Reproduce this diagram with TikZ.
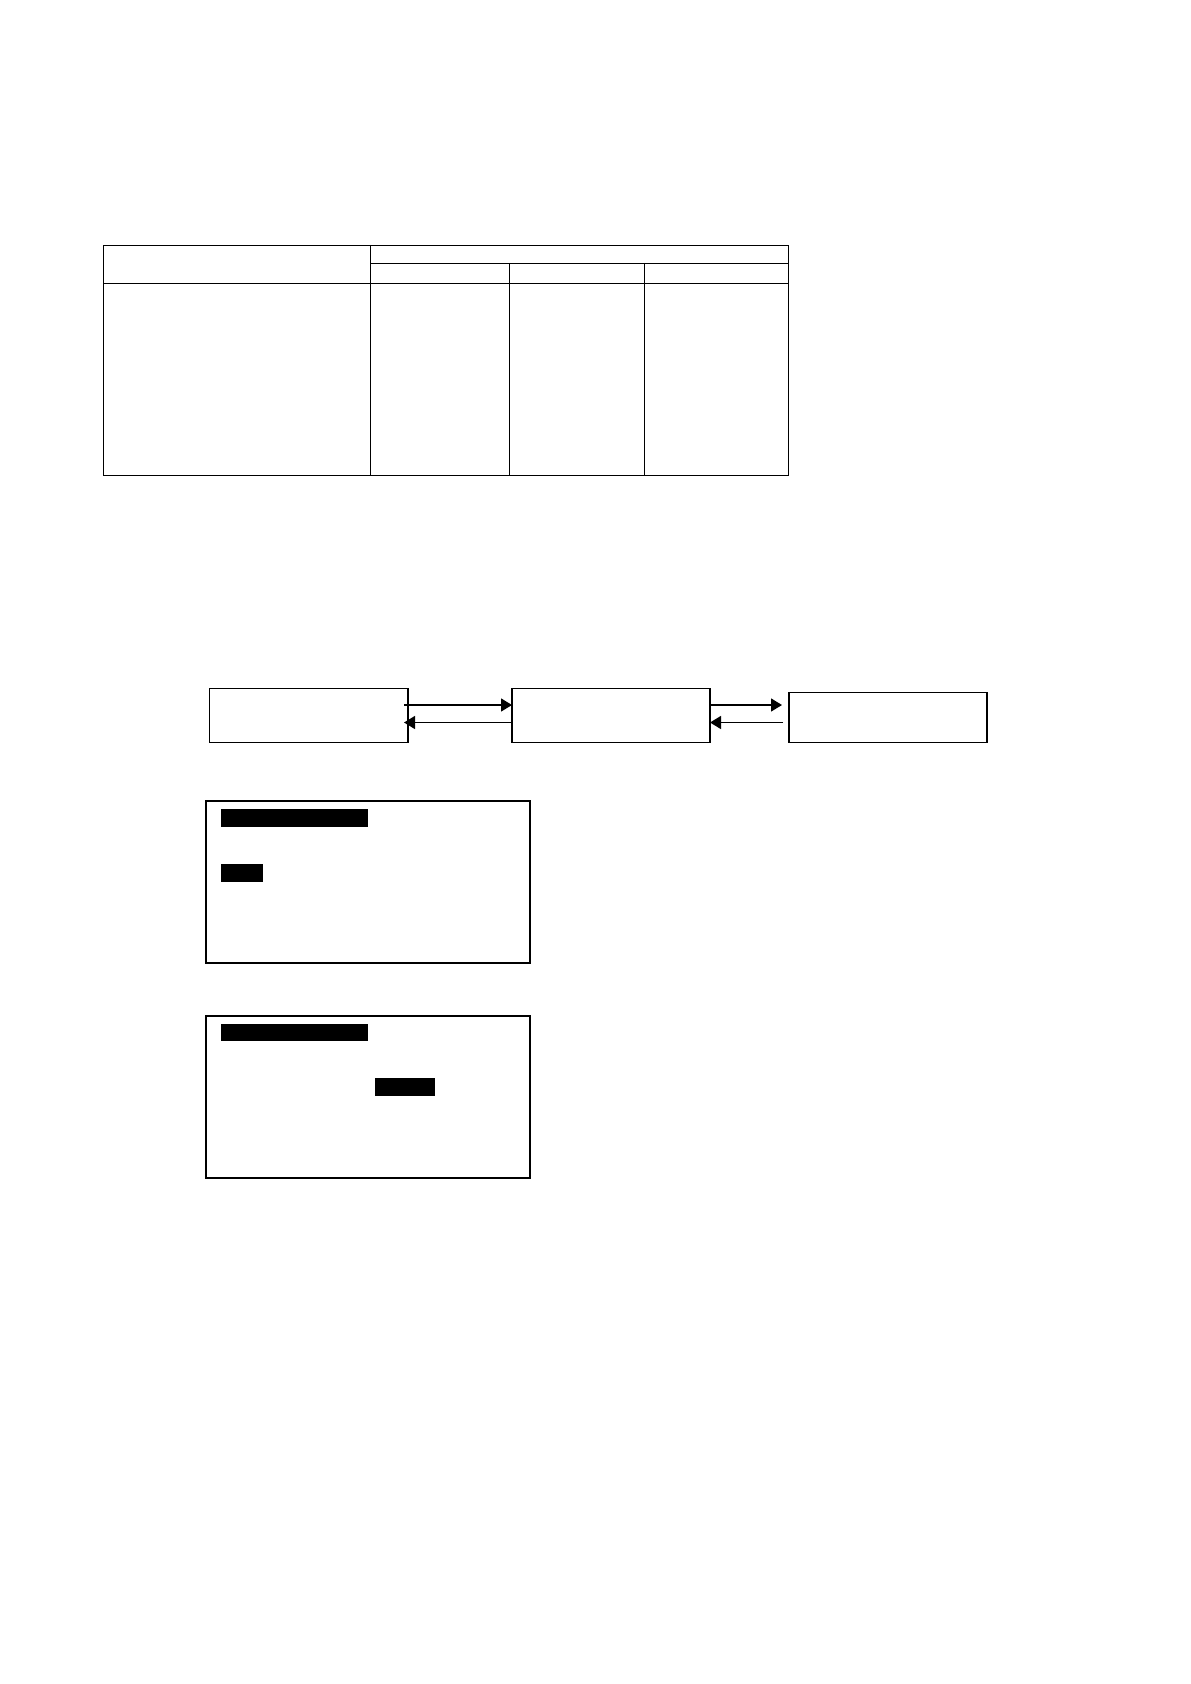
\documentclass[tikz,border=0pt]{standalone}
\usetikzlibrary{arrows.meta}
\tikzset{
  tline/.style={line width=0.45pt},
  flowbox/.style={draw, line width=0.9pt, rectangle, inner sep=0pt, outer sep=0pt, anchor=north west},
  panel/.style={draw, line width=1pt, rectangle, inner sep=0pt, outer sep=0pt, anchor=north west},
  bar/.style={fill=black, rectangle, inner sep=0pt, outer sep=0pt, anchor=north west},
  flowarrow/.style={line width=0.7pt, -{Triangle[length=5.5pt,width=6.5pt]}}
}
\begin{document}
\begin{tikzpicture}[x=0.5pt,y=-0.5pt]
\useasboundingbox (0,0) rectangle (1190,1684);
% table
\draw[tline] (103,245) rectangle (788,475);
\draw[tline] (370.5,263) -- (788,263);
\draw[tline] (103,283) -- (788,283);
\draw[tline] (370.5,245) -- (370.5,475);
\draw[tline] (509,263) -- (509,475);
\draw[tline] (644.5,263) -- (644.5,475);
% flow boxes
\node[flowbox, minimum width=99.25pt, minimum height=27pt] (b1) at (209.5,688.5) {};
\node[flowbox, minimum width=99pt, minimum height=27pt] (b2) at (512,688.5) {};
\node[flowbox, minimum width=99pt, minimum height=25pt] (b3) at (789,692.5) {};
\coordinate (s1) at (404,705);
\coordinate (t1) at (404,722.5);
\coordinate (s2) at (782,705);
\coordinate (t2) at (783,722.5);
\draw[flowarrow] (s1) -- (b2.west |- s1);
\draw[flowarrow] (b2.west |- t1) -- (t1);
\draw[flowarrow] (b2.east |- s2) -- (s2);
\draw[flowarrow] (t2) -- (b2.east |- t2);
% panel 1
\node[panel, minimum width=162pt, minimum height=81pt] (p1) at (206,801) {};
\node[bar, minimum width=73.5pt, minimum height=9pt] (p1a) at (221,808.5) {};
\node[bar, minimum width=21pt, minimum height=9pt] (p1b) at (221,864) {};
% panel 2
\node[panel, minimum width=162pt, minimum height=81pt] (p2) at (206,1015.5) {};
\node[bar, minimum width=73.5pt, minimum height=8.7pt] (p2a) at (221,1023.5) {};
\node[bar, minimum width=30pt, minimum height=9pt] (p2b) at (375,1077.5) {};
\end{tikzpicture}
\end{document}
